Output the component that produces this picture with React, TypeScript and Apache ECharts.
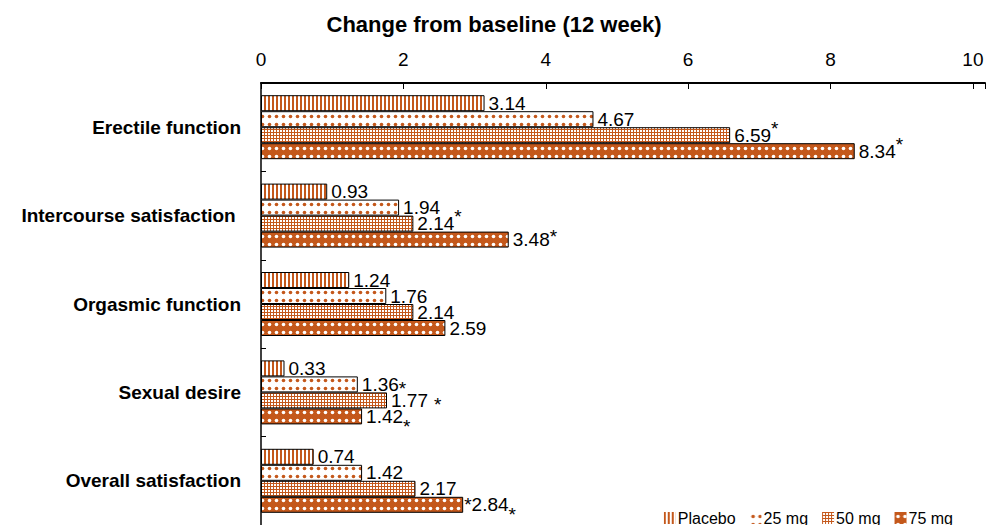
import React, { useEffect, useRef } from 'react';
import * as echarts from 'echarts';

const titleText = 'Change from baseline (12 week)';
const categories = ['Erectile function', 'Intercourse satisfaction ', 'Orgasmic function', 'Sexual desire', 'Overall satisfaction'];
const seriesNames = ['Placebo', '25 mg', '50 mg', '75 mg'];
const placebo = [3.14, 0.93, 1.24, 0.33, 0.74];
const mg25 = [4.67, 1.94, 1.76, 1.36, 1.42];
const mg50 = [6.59, 2.14, 2.14, 1.77, 2.17];
const mg75 = [8.34, 3.48, 2.59, 1.42, 2.84];
// significance asterisk placement per bar
const placeboSig = ['', '', '', '', ''];
const mg25Sig = ['', '', '', 'sub', ''];
const mg50Sig = ['sup', 'sup', '', 'mid', ''];
const mg75Sig = ['sup', 'sup2', '', 'sub2', 'pre'];
const xMin = 0;
const xMax = 10.17;
const xInterval = 2;

const ORANGE = '#c4581b';
const FONT = "'Liberation Sans', Arial, Helvetica, sans-serif";

function makeCanvas(w: number, h: number, draw: (ctx: CanvasRenderingContext2D) => void) {
  const c = document.createElement('canvas');
  c.width = w;
  c.height = h;
  const ctx = c.getContext('2d')!;
  draw(ctx);
  return { image: c, repeat: 'repeat', imageWidth: w, imageHeight: h } as any;
}

function dot(ctx: CanvasRenderingContext2D, x: number, y: number, r: number) {
  ctx.beginPath();
  ctx.arc(x, y, r, 0, Math.PI * 2);
  ctx.fill();
}

function patterns() {
  const stripes = makeCanvas(4, 4, (ctx) => {
    ctx.fillStyle = '#ffffff';
    ctx.fillRect(0, 0, 4, 4);
    ctx.fillStyle = ORANGE;
    ctx.fillRect(0, 0, 2, 4);
  });
  const dotsLight = makeCanvas(7, 8, (ctx) => {
    ctx.fillStyle = '#ffffff';
    ctx.fillRect(0, 0, 7, 8);
    ctx.fillStyle = ORANGE;
    dot(ctx, 3.5, 4.5, 1.8);
  });
  const grid = makeCanvas(3, 3, (ctx) => {
    ctx.fillStyle = '#ffffff';
    ctx.fillRect(0, 0, 3, 3);
    ctx.fillStyle = ORANGE;
    ctx.fillRect(0, 0, 3, 1);
    ctx.fillRect(0, 0, 1, 3);
  });
  const dotsDark = makeCanvas(7, 8, (ctx) => {
    ctx.fillStyle = ORANGE;
    ctx.fillRect(0, 0, 7, 8);
    ctx.fillStyle = '#ffffff';
    dot(ctx, 3.5, 4.5, 1.8);
  });
  return [stripes, dotsLight, grid, dotsDark];
}

function fmt(v: number, sig: string) {
  const s = v.toFixed(2);
  switch (sig) {
    case 'sup':
      return `{v|${s}}{sup|*}`;
    case 'sup2':
      return `{v|${s}}{sup2|*}`;
    case 'sub':
      return `{v|${s}}{sub|*}`;
    case 'sub2':
      return `{v|${s}}{sub2|*}`;
    case 'mid':
      return `{v|${s}}{mid|*}`;
    case 'pre':
      return `{a|*}{v|${s}}{sub2|*}`;
    default:
      return `{v|${s}}`;
  }
}

const tok = { fontSize: 19, fontFamily: FONT, color: '#000' };
const rich = {
  v: { ...tok },
  a: { ...tok },
  sup: { ...tok, padding: [0, 0, 14, 0] },
  sup2: { ...tok, padding: [0, 0, 6, 0] },
  sub: { ...tok, padding: [8, 0, 0, 0] },
  sub2: { ...tok, padding: [20, 0, 0, 0] },
  mid: { ...tok, padding: [8, 0, 0, 6] },
};

export default function App() {
  const ref = useRef<HTMLDivElement>(null);
  useEffect(() => {
    if (!ref.current) return;
    const chart = echarts.init(ref.current, null, { renderer: 'svg' });
    const pats = patterns();
    const allValues = [placebo, mg25, mg50, mg75];
    const allSigs = [placeboSig, mg25Sig, mg50Sig, mg75Sig];
    const series = seriesNames.map((name, si) => ({
      name,
      type: 'bar',
      barWidth: 16,
      barGap: '0%',
      itemStyle: { color: pats[si], borderColor: '#000', borderWidth: 1 },
      label: {
        show: true,
        position: 'right',
        distance: 4,
        fontSize: 19,
        fontFamily: FONT,
        color: '#000',
        rich,
      },
      data: allValues[si].map((v, i) => ({
        value: v,
        label: { formatter: fmt(v, allSigs[si][i]), distance: allSigs[si][i] === 'pre' ? 1 : 4 },
      })),
    }));
    chart.setOption({
      animation: false,
      backgroundColor: '#fff',
      title: {
        text: titleText,
        left: 'center',
        top: 8,
        textStyle: { fontSize: 22, fontWeight: 'bold', fontFamily: FONT, color: '#000' },
      },
      legend: {
        data: seriesNames,
        right: 30,
        top: 505,
        itemWidth: 12,
        itemHeight: 12,
        itemGap: 14,
        icon: 'rect',
        textStyle: { fontSize: 16, fontFamily: FONT, color: '#000', padding: [0, 0, 0, -3] },
        itemStyle: { borderWidth: 0 },
      },
      grid: { left: 261, right: 0, top: 83, bottom: -4, containLabel: false },
      xAxis: {
        type: 'value',
        position: 'top',
        min: xMin,
        max: xMax,
        interval: xInterval,
        axisLine: { show: true, lineStyle: { color: '#000', width: 2 } },
        axisTick: { show: true, inside: true, length: 6, lineStyle: { color: '#000', width: 1 } },
        axisLabel: {
          fontSize: 19,
          fontFamily: FONT,
          color: '#000',
          margin: 14,
          formatter: (v: number) => (Math.abs(v % xInterval) < 1e-9 ? String(v) : ''),
        },
        splitLine: { show: false },
      },
      yAxis: {
        type: 'category',
        inverse: true,
        data: categories,
        axisLine: { show: true, lineStyle: { color: '#000', width: 1.5 } },
        axisTick: { show: true, inside: true, length: 5, lineStyle: { color: '#000' } },
        axisLabel: {
          fontSize: 19,
          fontWeight: 'bold',
          fontFamily: FONT,
          color: '#000',
          margin: 20,
        },
      },
      series,
    });
    return () => chart.dispose();
  }, []);
  return <div ref={ref} style={{ position: 'fixed', left: 0, top: 0, width: 988, height: 525 }} />;
}
